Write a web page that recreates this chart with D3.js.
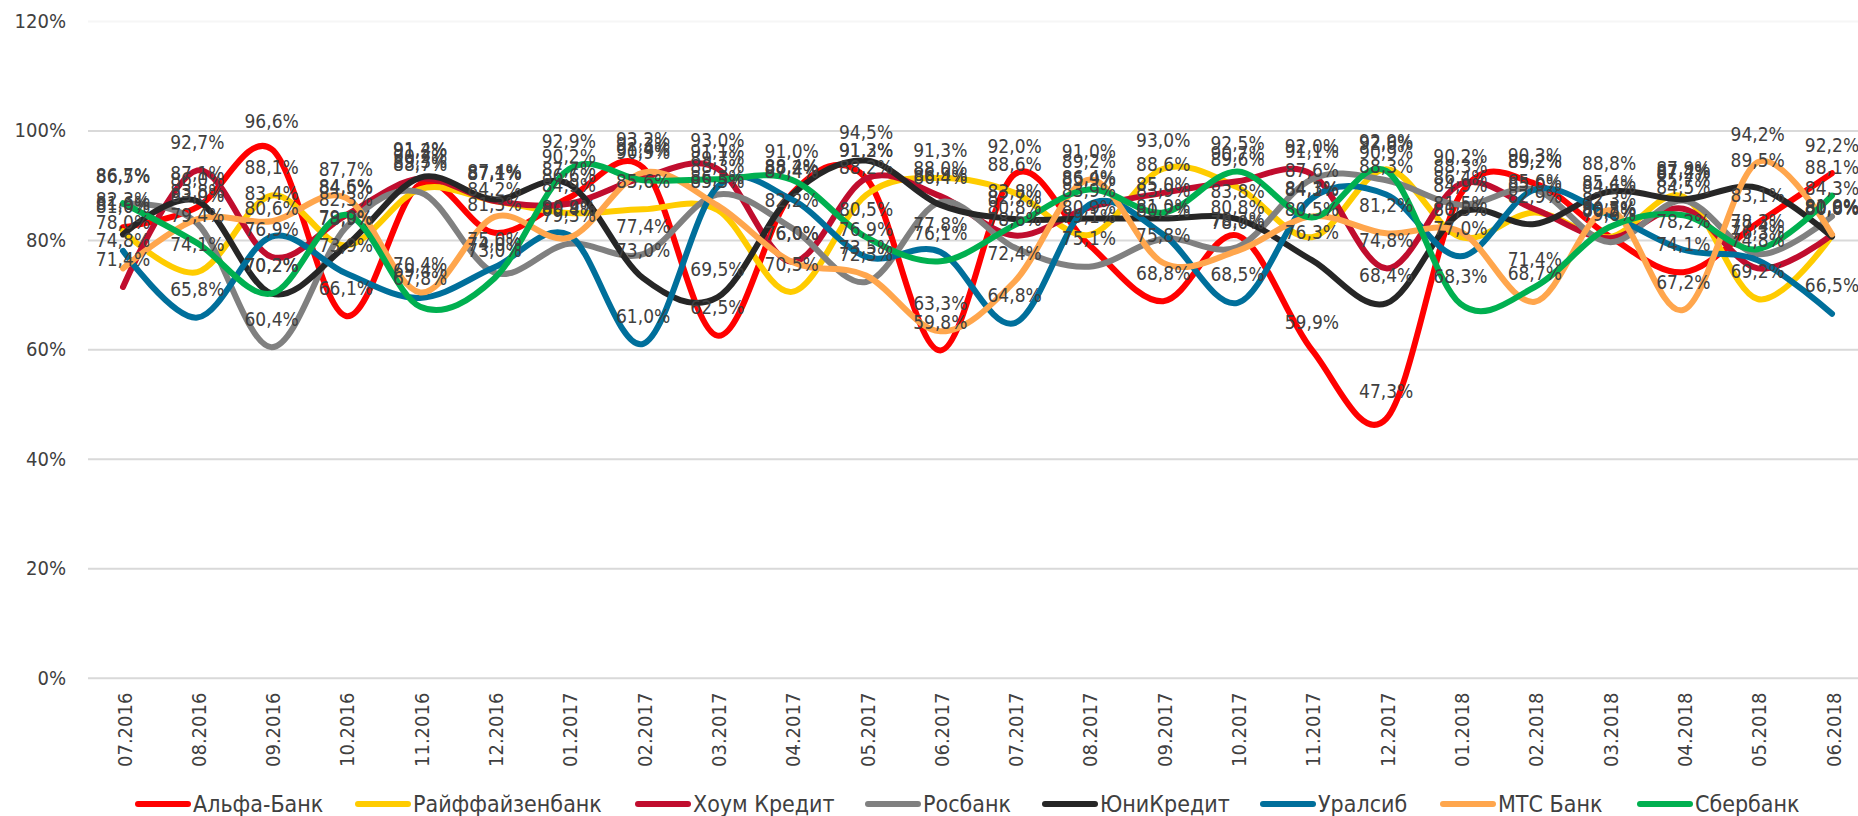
<!DOCTYPE html>
<html>
<head>
<meta charset="utf-8">
<style>
	html, body { margin: 0; padding: 0; background: #fff; }
	svg { display: block; }
	.axis path, .axis line { display: none; }
	.grid line { stroke: #d9d9d9; stroke-width: 2; }
	.grid path { display: none; }
	text { font-family: "DejaVu Sans Condensed", "DejaVu Sans", sans-serif; font-stretch: condensed; fill: #404040; }
</style>
<script src="https://cdnjs.cloudflare.com/ajax/libs/d3/7.8.5/d3.min.js"></script>
</head>
<body>
<svg id="chart" width="1858" height="816"></svg>
<script>
var months = ['07.2016', '08.2016', '09.2016', '10.2016', '11.2016', '12.2016', '01.2017', '02.2017',
	'03.2017', '04.2017', '05.2017', '06.2017', '07.2017', '08.2017', '09.2017', '10.2017', '11.2017',
	'12.2017', '01.2018', '02.2018', '03.2018', '04.2018', '05.2018', '06.2018'];

var alfa = [82.3, 86.0, 96.6, 66.1, 90.2, 81.3, 87.7, 93.2, 62.5, 88.4, 91.3, 59.8, 92.0, 79.1, 68.8, 80.8, 59.9, 47.3, 88.3, 90.3, 80.7, 74.1, 83.1, 92.2];
var raif = [81.6, 74.1, 88.1, 79.0, 89.3, 87.1, 84.9, 85.6, 85.5, 70.5, 88.2, 91.3, 88.6, 80.9, 93.0, 89.6, 80.5, 92.9, 80.5, 85.0, 80.5, 87.9, 69.2, 80.8];
var home = [71.4, 92.7, 76.9, 84.5, 91.2, 87.1, 86.6, 91.4, 93.0, 76.0, 91.2, 88.0, 80.8, 85.9, 88.6, 90.7, 92.0, 74.8, 90.2, 85.6, 80.3, 85.7, 74.8, 80.9];
var ros = [86.5, 83.0, 60.4, 82.3, 88.7, 74.0, 79.3, 77.4, 88.3, 82.2, 72.3, 86.9, 78.6, 75.1, 80.2, 78.7, 91.1, 90.9, 86.4, 89.2, 79.6, 87.2, 77.4, 84.3];
var uni = [81.0, 87.1, 70.2, 78.9, 91.4, 87.4, 90.2, 73.0, 69.5, 88.2, 94.5, 86.4, 83.8, 83.9, 83.9, 83.8, 76.3, 68.4, 84.9, 82.9, 88.8, 87.4, 89.5, 80.6];
var ural = [78.0, 65.8, 80.6, 73.9, 69.4, 75.0, 80.9, 61.0, 89.7, 87.4, 76.9, 77.8, 64.8, 86.4, 81.0, 68.5, 87.6, 88.3, 77.0, 89.2, 84.6, 78.2, 76.3, 66.5];
var mts = [74.8, 83.8, 83.4, 87.7, 70.4, 84.2, 80.4, 92.3, 86.3, 76.0, 73.5, 63.3, 72.4, 91.0, 75.8, 78.0, 84.3, 81.2, 81.5, 68.7, 85.4, 67.2, 94.2, 81.0];
var sber = [86.7, 79.4, 70.2, 84.6, 67.8, 73.0, 92.9, 90.9, 91.1, 91.0, 80.5, 76.1, 82.7, 89.2, 85.0, 92.5, 84.1, 92.6, 68.3, 71.4, 82.3, 84.5, 78.3, 88.1];

var bankNames = ['Альфа-Банк', 'Райффайзенбанк', 'Хоум Кредит', 'Росбанк', 'ЮниКредит', 'Уралсиб', 'МТС Банк', 'Сбербанк'];
var bankValues = [alfa, raif, home, ros, uni, ural, mts, sber];
var bankColors = ['#ff0000', '#ffcc00', '#c00d2e', '#808080', '#262626', '#006f9b', '#ffa64d', '#00b050'];
var yTicks = [0, 20, 40, 60, 80, 100, 120];

// legend swatch left edges
var legendX = [135, 355, 635, 865, 1042, 1260, 1440, 1637];

var svg = d3.select('#chart');

var x = d3.scalePoint().domain(months).range([123, 1832]);
var y = d3.scaleLinear().domain([0, 120]).range([677.7, 21]);

function percent(v) {
	return v.toFixed(1).replace('.', ',') + '%';
}

var grid = svg.append('g')
	.attr('class', 'grid')
	.attr('transform', 'translate(88,0)')
	.call(d3.axisLeft(y).tickValues(yTicks).tickSize(-1780).tickFormat(''));
// the top line is barely visible in the original
grid.selectAll('line').filter(function(d) { return d == 120; })
	.style('stroke', '#f6f6f6');

var yAxis = svg.append('g')
	.attr('class', 'axis')
	.attr('transform', 'translate(66,0)')
	.call(d3.axisLeft(y).tickValues(yTicks).tickSize(0).tickPadding(0).tickFormat(function(d) { return d + '%'; }));
yAxis.selectAll('text')
	.style('font-size', '20px')
	.style('text-anchor', 'end');

var xAxis = svg.append('g')
	.attr('class', 'axis')
	.attr('transform', 'translate(0,693)')
	.call(d3.axisBottom(x).tickSize(0));
xAxis.selectAll('text')
	.attr('transform', 'rotate(-90)')
	.attr('x', -74)
	.attr('y', 1)
	.attr('dy', '0.35em')
	.style('text-anchor', 'start')
	.style('font-size', '20px');

var line = d3.line()
	.x(function(d, i) { return x(months[i]); })
	.y(function(d) { return y(d); })
	.curve(d3.curveCardinal.tension(0));

svg.append('g').selectAll('path')
	.data(bankValues)
	.enter().append('path')
	.attr('d', line)
	.attr('fill', 'none')
	.attr('stroke', function(d, i) { return bankColors[i]; })
	.attr('stroke-width', 6)
	.attr('stroke-linecap', 'round')
	.attr('stroke-linejoin', 'round');

// data labels go over all the lines
bankValues.forEach(function(values) {
	svg.append('g').selectAll('text')
		.data(values)
		.enter().append('text')
		.attr('x', function(d, i) { return x(months[i]); })
		.attr('y', function(d) { return y(d) - 28; })
		.attr('dy', '0.35em')
		.attr('text-anchor', 'middle')
		.style('font-size', '19px')
		.text(percent);
});

var legend = svg.append('g').selectAll('g')
	.data(bankNames)
	.enter().append('g')
	.attr('transform', function(d, i) { return 'translate(' + legendX[i] + ',804)'; });
legend.append('line')
	.attr('x1', 3)
	.attr('x2', 53)
	.attr('stroke', function(d, i) { return bankColors[i]; })
	.attr('stroke-width', 6)
	.attr('stroke-linecap', 'round');
legend.append('text')
	.attr('x', 58)
	.attr('dy', '0.35em')
	.style('font-size', '23px')
	.text(function(d) { return d; });
</script>
</body>
</html>
